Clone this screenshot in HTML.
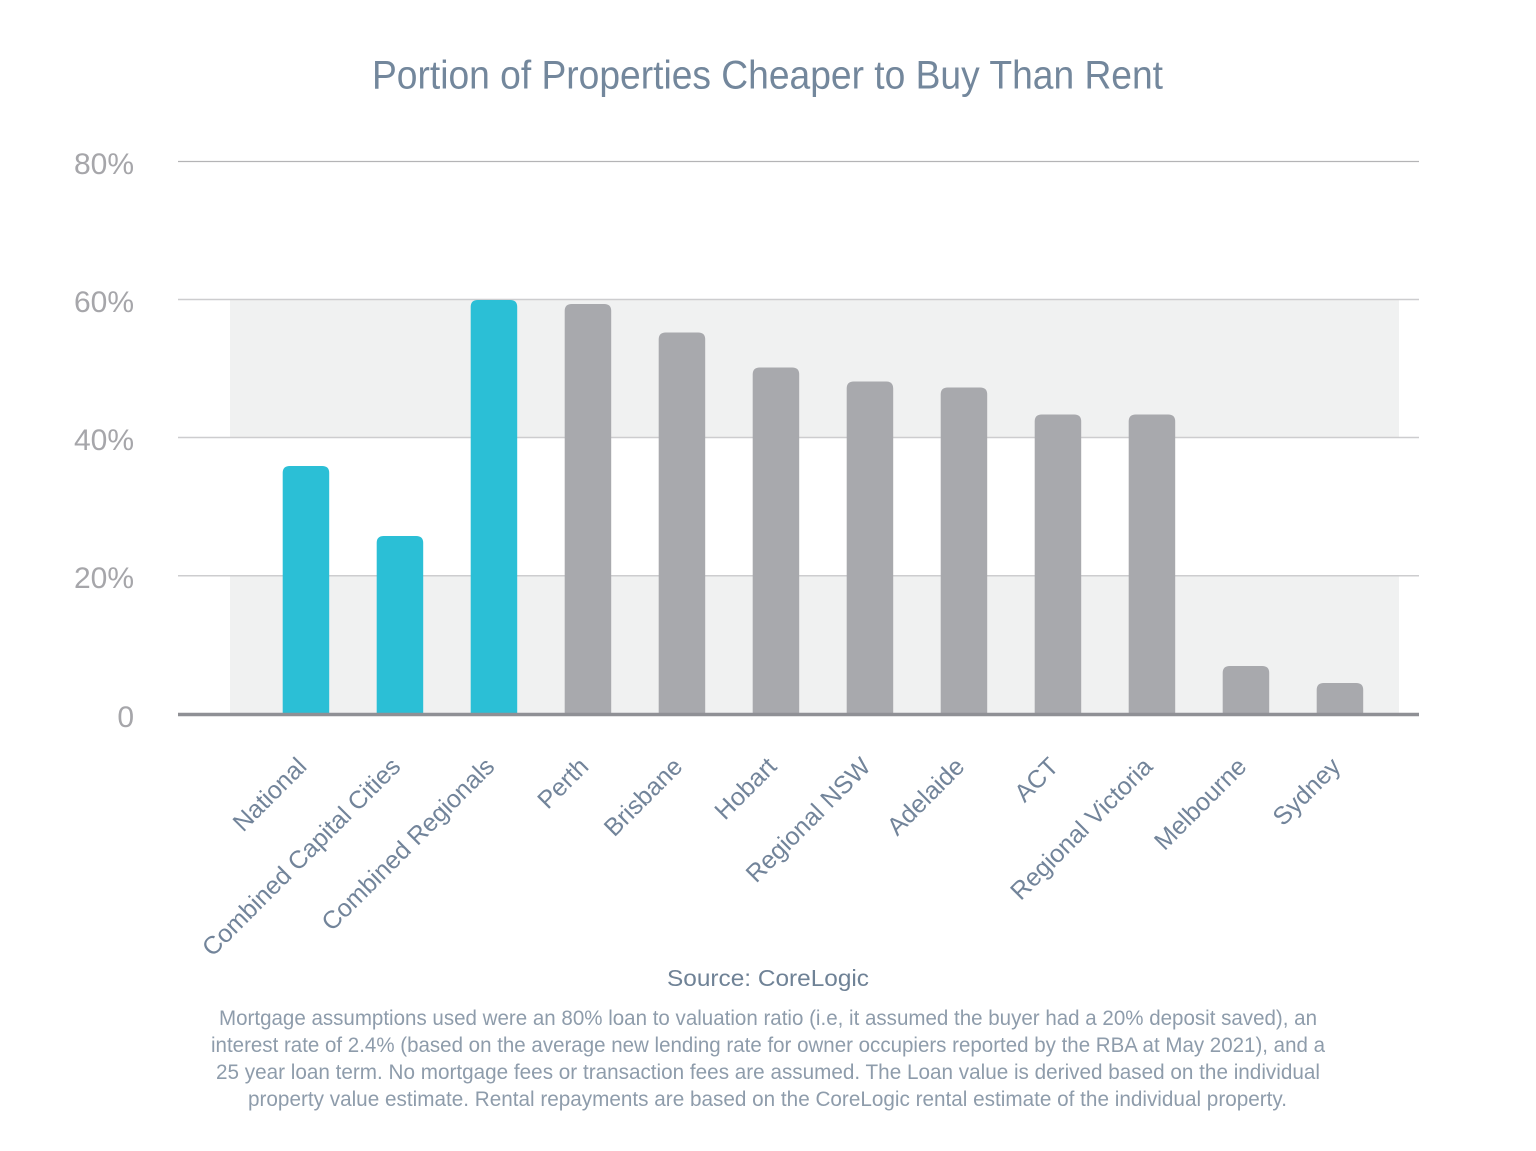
<!DOCTYPE html>
<html>
<head>
<meta charset="utf-8">
<style>
  html, body { margin: 0; padding: 0; background: #ffffff; }
  svg { display: block; }
</style>
</head>
<body>
<svg width="1536" height="1151" viewBox="0 0 1536 1151" xmlns="http://www.w3.org/2000/svg" font-family="'Liberation Sans', sans-serif">
  <rect x="0" y="0" width="1536" height="1151" fill="#ffffff"/>

  <!-- Title -->
  <text x="372" y="88.5" font-size="40" fill="#73879c" textLength="791" lengthAdjust="spacingAndGlyphs">Portion of Properties Cheaper to Buy Than Rent</text>

  <!-- Bands -->
  <rect x="230" y="300" width="1169" height="137.5" fill="#f0f1f1"/>
  <rect x="230" y="576" width="1169" height="137" fill="#f0f1f1"/>

  <!-- Gridlines -->
  <line x1="178" y1="161.5" x2="1419" y2="161.5" stroke="#b4b4b6" stroke-width="1.3"/>
  <line x1="178" y1="299.5" x2="1419" y2="299.5" stroke="#cdcdcf" stroke-width="1.5"/>
  <line x1="178" y1="437.5" x2="1419" y2="437.5" stroke="#cdcdcf" stroke-width="1.5"/>
  <line x1="178" y1="575.8" x2="1419" y2="575.8" stroke="#cdcdcf" stroke-width="1.5"/>

  <!-- Y labels -->
  <g font-size="30" fill="#a6a6aa" text-anchor="end">
    <text x="134" y="174">80%</text>
    <text x="134" y="312">60%</text>
    <text x="134" y="450">40%</text>
    <text x="134" y="588">20%</text>
    <text x="134" y="727">0</text>
  </g>

  <!-- Bars -->
  <g>
    <path fill="#2bbfd6" d="M282.7,713 V473 Q282.7,466 289.7,466 H322.2 Q329.2,466 329.2,473 V713 Z"/>
    <path fill="#2bbfd6" d="M376.7,713 V543 Q376.7,536 383.7,536 H416.2 Q423.2,536 423.2,543 V713 Z"/>
    <path fill="#2bbfd6" d="M470.7,713 V307 Q470.7,300 477.7,300 H510.2 Q517.2,300 517.2,307 V713 Z"/>
    <path fill="#a8a9ad" d="M564.7,713 V311 Q564.7,304 571.7,304 H604.2 Q611.2,304 611.2,311 V713 Z"/>
    <path fill="#a8a9ad" d="M658.7,713 V339.5 Q658.7,332.5 665.7,332.5 H698.2 Q705.2,332.5 705.2,339.5 V713 Z"/>
    <path fill="#a8a9ad" d="M752.7,713 V374.5 Q752.7,367.5 759.7,367.5 H792.2 Q799.2,367.5 799.2,374.5 V713 Z"/>
    <path fill="#a8a9ad" d="M846.7,713 V388.5 Q846.7,381.5 853.7,381.5 H886.2 Q893.2,381.5 893.2,388.5 V713 Z"/>
    <path fill="#a8a9ad" d="M940.7,713 V394.5 Q940.7,387.5 947.7,387.5 H980.2 Q987.2,387.5 987.2,394.5 V713 Z"/>
    <path fill="#a8a9ad" d="M1034.7,713 V421.5 Q1034.7,414.5 1041.7,414.5 H1074.2 Q1081.2,414.5 1081.2,421.5 V713 Z"/>
    <path fill="#a8a9ad" d="M1128.7,713 V421.5 Q1128.7,414.5 1135.7,414.5 H1168.2 Q1175.2,414.5 1175.2,421.5 V713 Z"/>
    <path fill="#a8a9ad" d="M1222.7,713 V673 Q1222.7,666 1229.7,666 H1262.2 Q1269.2,666 1269.2,673 V713 Z"/>
    <path fill="#a8a9ad" d="M1316.7,713 V690 Q1316.7,683 1323.7,683 H1356.2 Q1363.2,683 1363.2,690 V713 Z"/>
  </g>

  <!-- Axis line -->
  <line x1="178" y1="714.5" x2="1419" y2="714.5" stroke="#8f9095" stroke-width="3.5"/>

  <!-- X labels -->
  <g font-size="25" fill="#72849a" text-anchor="end">
    <text x="308" y="768" transform="rotate(-45 308 768)">National</text>
    <text x="402" y="768" transform="rotate(-45 402 768)">Combined Capital Cities</text>
    <text x="496" y="768" transform="rotate(-45 496 768)">Combined Regionals</text>
    <text x="590" y="768" transform="rotate(-45 590 768)">Perth</text>
    <text x="684" y="768" transform="rotate(-45 684 768)">Brisbane</text>
    <text x="778" y="768" transform="rotate(-45 778 768)">Hobart</text>
    <text x="872" y="768" transform="rotate(-45 872 768)">Regional NSW</text>
    <text x="966" y="768" transform="rotate(-45 966 768)">Adelaide</text>
    <text x="1060" y="768" transform="rotate(-45 1060 768)">ACT</text>
    <text x="1154" y="768" transform="rotate(-45 1154 768)">Regional Victoria</text>
    <text x="1248" y="768" transform="rotate(-45 1248 768)">Melbourne</text>
    <text x="1342" y="768" transform="rotate(-45 1342 768)">Sydney</text>
  </g>

  <!-- Source -->
  <text x="667" y="986" font-size="23.5" fill="#6f8296" textLength="202" lengthAdjust="spacingAndGlyphs">Source: CoreLogic</text>

  <!-- Footnote -->
  <g font-size="21" fill="#8e9cab">
    <text x="219" y="1025" textLength="1098" lengthAdjust="spacingAndGlyphs">Mortgage assumptions used were an 80% loan to valuation ratio (i.e, it assumed the buyer had a 20% deposit saved), an</text>
    <text x="211" y="1052" textLength="1114" lengthAdjust="spacingAndGlyphs">interest rate of 2.4% (based on the average new lending rate for owner occupiers reported by the RBA at May 2021), and a</text>
    <text x="216" y="1079" textLength="1104" lengthAdjust="spacingAndGlyphs">25 year loan term. No mortgage fees or transaction fees are assumed. The Loan value is derived  based on the individual</text>
    <text x="248" y="1106" textLength="1039" lengthAdjust="spacingAndGlyphs">property value estimate. Rental repayments are based on the CoreLogic rental estimate of the individual property.</text>
  </g>
</svg>
</body>
</html>
